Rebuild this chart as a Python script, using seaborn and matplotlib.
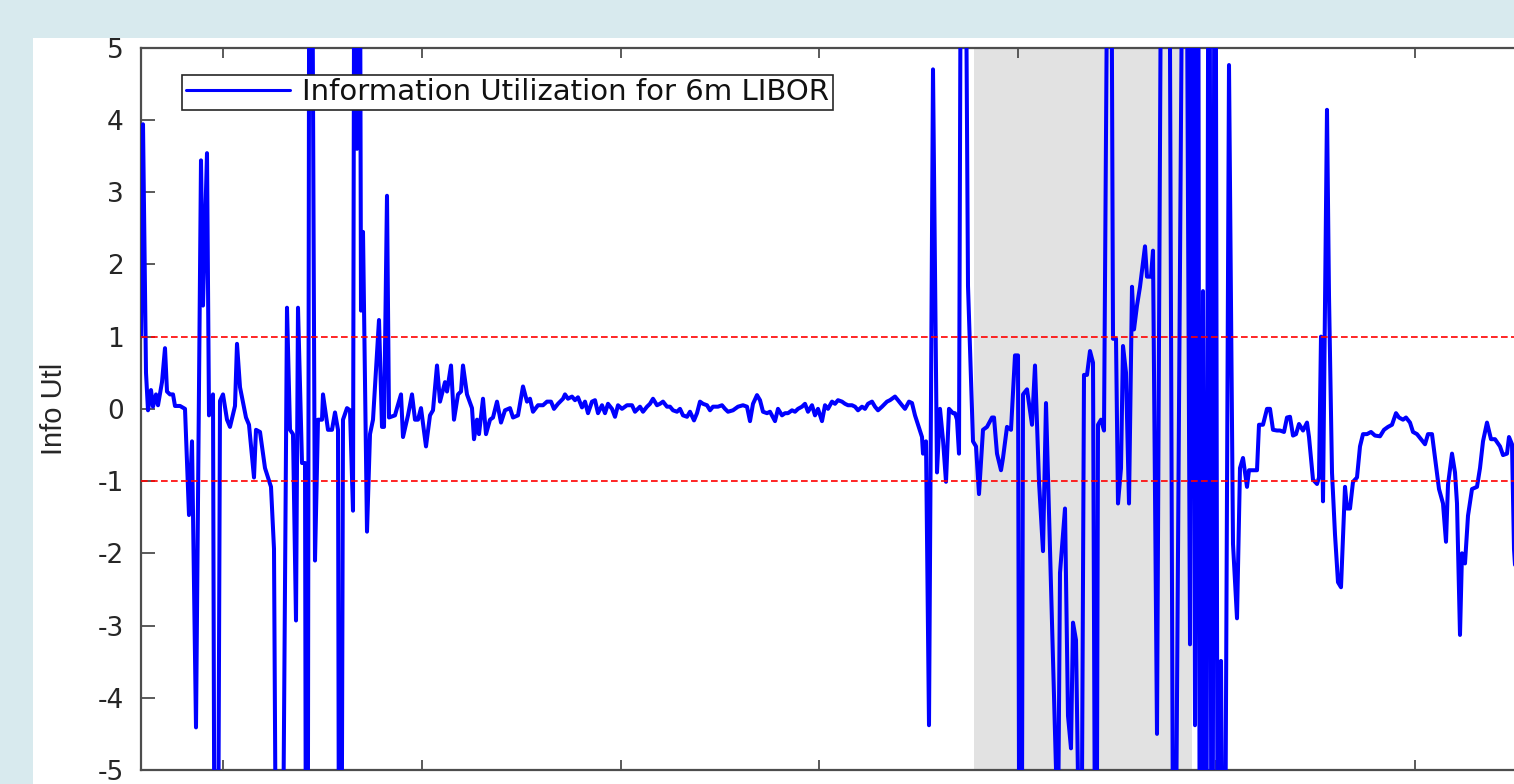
import numpy as np
import pandas as pd
import matplotlib
matplotlib.use("Agg")
import matplotlib.pyplot as plt
from matplotlib.patches import Rectangle
from matplotlib import font_manager
import seaborn as sns

# ---------------- data ----------------
obs = [
    0, 2, 5, 7, 10, 12, 15, 17, 21, 24,
    26, 29, 32, 34, 39, 44, 48, 51, 55, 60,
    62, 66, 68, 72, 75, 79, 82, 86, 89, 94,
    96, 99, 105, 108, 113, 115, 119, 124, 130, 133,
    138, 146, 149, 152, 155, 157, 161, 164, 166, 169,
    174, 177, 181, 182, 187, 191, 194, 197, 199, 202,
    206, 209, 212, 214, 216, 218, 220, 222, 226, 229,
    232, 238, 241, 243, 246, 248, 254, 256, 260, 262,
    267, 271, 274, 277, 280, 285, 289, 292, 296, 299,
    304, 306, 310, 313, 317, 320, 322, 326, 331, 333,
    336, 338, 342, 345, 349, 352, 356, 360, 364, 369,
    372, 377, 382, 386, 389, 392, 397, 402, 406, 410,
    413, 417, 422, 424, 427, 431, 434, 437, 441, 444,
    447, 451, 454, 457, 461, 464, 467, 471, 474, 477,
    481, 486, 491, 494, 499, 502, 506, 509, 512, 516,
    519, 522, 526, 529, 532, 536, 539, 542, 546, 549,
    553, 556, 559, 562, 566, 569, 572, 577, 581, 584,
    587, 592, 597, 602, 606, 609, 612, 616, 619, 622,
    626, 629, 634, 637, 641, 644, 647, 651, 654, 657,
    661, 664, 667, 671, 674, 677, 681, 684, 687, 691,
    694, 697, 701, 704, 707, 711, 714, 717, 721, 724,
    727, 731, 734, 737, 741, 746, 749, 754, 757, 761,
    764, 768, 771, 774, 777, 781, 782, 785, 788, 792,
    796, 799, 802, 805, 808, 812, 814, 816, 818, 821.5,
    827, 832, 835, 838, 842, 846, 851, 853, 856, 860,
    862, 866, 870, 874, 877, 879.5, 882, 886, 891, 894,
    898, 902, 905, 917, 919, 924, 927, 930, 932, 935,
    940, 943, 946, 949, 952, 955, 957, 960, 963, 969,
    972, 975, 977, 980, 982, 985, 988, 991, 993, 996,
    999, 1004, 1006, 1010, 1012, 1016, 1025, 1033, 1044, 1049,
    1051, 1054, 1057, 1059, 1062, 1065, 1068, 1071, 1074, 1077,
    1080, 1083, 1088, 1092, 1096, 1099, 1102, 1106, 1108, 1111,
    1116, 1118, 1122, 1126, 1129, 1132, 1136, 1139, 1143, 1146,
    1149, 1152, 1155, 1158, 1162, 1166, 1168, 1172, 1176, 1178,
    1180, 1182, 1186, 1188, 1191, 1194, 1197, 1200, 1204, 1206,
    1209, 1212, 1216, 1219, 1222, 1226, 1230, 1234, 1239, 1243,
    1247, 1251, 1255, 1258, 1262, 1265, 1269, 1272, 1276, 1280,
    1284, 1287, 1291, 1294, 1298, 1302, 1305, 1307, 1311, 1314,
    1316, 1319, 1321, 1324, 1327, 1331, 1336, 1339, 1342, 1346,
    1350, 1354, 1359, 1362, 1366, 1368, 1371, 1373, 1376,
]

info_util = [
    1.0, 3.94, 0.5, -0.02, 0.26, 0.03, 0.2, 0.05, 0.37, 0.84,
    0.24, 0.2, 0.2, 0.04, 0.04, 0.0, -1.47, -0.45, -4.41, 3.44,
    1.43, 3.54, -0.09, 0.2, -14, 0.11, 0.2, -0.15, -0.25, 0.04,
    0.9, 0.3, -0.12, -0.22, -0.95, -0.29, -0.32, -0.82, -1.08, -1.94,
    -14, 1.4, -0.29, -0.35, -2.93, 1.4, -0.75, -0.75, -14, 14,
    -2.1, -0.15, -0.15, 0.2, -0.29, -0.29, -0.05, -0.29, -14, -0.15,
    0.01, -0.02, -1.41, 12, 3.6, 12, 1.36, 2.45, -1.7, -0.35,
    -0.15, 1.23, -0.25, -0.25, 2.95, -0.12, -0.09, 0.01, 0.2, -0.39,
    -0.09, 0.2, -0.15, -0.15, 0.01, -0.52, -0.09, -0.02, 0.6, 0.1,
    0.37, 0.24, 0.6, -0.15, 0.2, 0.24, 0.6, 0.2, 0.01, -0.42,
    -0.15, -0.35, 0.14, -0.35, -0.15, -0.12, 0.1, -0.19, -0.02, 0.01,
    -0.12, -0.09, 0.31, 0.1, 0.14, -0.04, 0.05, 0.05, 0.1, 0.1,
    0.0, 0.07, 0.14, 0.2, 0.14, 0.17, 0.12, 0.16, 0.02, 0.1,
    -0.06, 0.1, 0.12, -0.06, 0.05, -0.06, 0.07, 0.0, -0.11, 0.05,
    0.0, 0.05, 0.05, -0.04, 0.03, -0.04, 0.03, 0.07, 0.14, 0.05,
    0.07, 0.1, 0.03, 0.03, -0.02, -0.04, 0.0, -0.09, -0.11, -0.04,
    -0.16, -0.06, 0.1, 0.07, 0.05, -0.02, 0.03, 0.03, 0.05, 0.0,
    -0.04, -0.02, 0.03, 0.05, 0.03, -0.17, 0.07, 0.19, 0.12, -0.04,
    -0.06, -0.04, -0.17, 0.0, -0.09, -0.06, -0.06, -0.02, -0.04, 0.0,
    0.03, 0.07, -0.04, 0.05, -0.09, 0.0, -0.17, 0.05, 0.0, 0.1,
    0.07, 0.12, 0.1, 0.07, 0.05, 0.05, 0.03, -0.02, 0.03, 0.0,
    0.07, 0.1, 0.03, -0.02, 0.03, 0.1, 0.12, 0.17, 0.12, 0.05,
    0.0, 0.1, 0.08, -0.09, -0.22, -0.39, -0.62, -0.45, -4.38, 4.7,
    -0.88, 0.0, -0.43, -1.01, 0.0, -0.06, -0.06, -0.15, -0.62, 14,
    1.7, -0.45, -0.52, -1.18, -0.29, -0.25, -0.12, -0.12, -0.62, -0.85,
    -0.68, -0.25, -0.29, 0.74, 0.74, -14, 0.2, 0.27, -0.22, 0.6,
    -1.01, -1.97, 0.08, -6, -2.27, -1.38, -4.25, -4.7, -2.96, -3.2,
    -8, 0.47, 0.47, 0.8, 0.64, -10, -0.22, -0.15, -0.3, 12,
    0.97, 0.97, -1.31, -0.82, 0.87, 0.5, -1.31, 1.69, 1.1, 1.43,
    1.69, 2.25, 1.83, 1.83, 2.19, -4.5, 20, -10, 12, -3.26,
    10, -4.38, 10, -10, 1.63, -10, 12, -12, 12, -10,
    -3.49, -10, 4.76, -1.87, -2.9, -0.82, -0.68, -1.08, -0.85, -0.85,
    -0.85, -0.22, -0.22, 0.0, 0.0, -0.29, -0.3, -0.3, -0.32, -0.12,
    -0.11, -0.37, -0.35, -0.21, -0.3, -0.19, -0.39, -0.98, -1.04, -0.95,
    1.0, -1.28, 4.14, 1.56, -0.88, -1.74, -2.4, -2.47, -1.08, -1.38,
    -1.38, -1.01, -0.95, -0.52, -0.35, -0.35, -0.32, -0.37, -0.38, -0.29,
    -0.25, -0.22, -0.06, -0.12, -0.15, -0.12, -0.19, -0.32, -0.35, -0.42,
    -0.49, -0.35, -0.35, -0.68, -1.11, -1.31, -1.84, -1.05, -0.62, -0.88,
    -1.31, -3.13, -2.0, -2.14, -1.48, -1.11, -1.08, -0.82, -0.45, -0.19,
    -0.42, -0.42, -0.52, -0.64, -0.62, -0.39, -0.49, -1.94, -2.6,
]

thresholds = [1, -1]
shade_span = (833, 1051)
x_ticks = [82.3, 280.9, 479.5, 678.1, 876.7, 1075.3, 1273.9]
y_ticks = list(range(-5, 6))
legend_label = "Information Utilization for 6m LIBOR"
y_label = "Info Utl"

# ---------------- style ----------------
sns.set_theme(style="white")
plt.rcParams["font.family"] = ["DejaVu Sans"]
plt.rcParams["axes.unicode_minus"] = False

W, H = 1514, 784
fig = plt.figure(figsize=(W / 100, H / 100), dpi=100, facecolor="#d8eaee")
fig.add_artist(Rectangle((33 / W, 0), 1 - 33 / W, 1 - 38 / H,
                         transform=fig.transFigure, facecolor="white",
                         edgecolor="none", zorder=0))

ax_l, ax_r, ax_t, ax_b = 141, 1541, 47.7, 770
ax = fig.add_axes([ax_l / W, (H - ax_b) / H, (ax_r - ax_l) / W, (ax_b - ax_t) / H])
ax.set_facecolor("white")

ax.axvspan(*shade_span, color="#e2e2e2", lw=0, zorder=0.5)

df = pd.DataFrame({"obs": obs, "info": info_util})
sns.lineplot(data=df, x="obs", y="info", ax=ax, color="#0000ff", lw=2.9,
             estimator=None, sort=False, label=legend_label, zorder=3)

for t in thresholds:
    ax.axhline(t, color="#ff0000", lw=1.2, ls=(0, (4, 2)), zorder=4)

ax.set_xlim(0, ax_r - ax_l)
ax.set_ylim(-5, 5)
ax.set_xticks(x_ticks)
ax.set_yticks(y_ticks)
ax.set_xlabel("")

spine_c = "#4d4d4d"
for side in ["left", "bottom", "top"]:
    ax.spines[side].set_visible(True)
    ax.spines[side].set_color(spine_c)
    ax.spines[side].set_linewidth(1.6)
ax.spines["right"].set_visible(False)

ax.tick_params(axis="x", direction="in", length=7.5, width=1.3, color=spine_c,
               top=True, bottom=True, labelbottom=False, labeltop=False)
ax.tick_params(axis="y", direction="in", length=10, width=1.3, color=spine_c,
               left=True, right=False, labelsize=19, labelcolor="#262626", pad=12.5)

names = {f.name for f in font_manager.fontManager.ttflist}
if "Liberation Sans Narrow" in names:
    ylab_family, ylab_size = "Liberation Sans Narrow", 24
else:
    ylab_family, ylab_size = "Liberation Sans", 21
ax.set_ylabel(y_label, fontsize=ylab_size, family=[ylab_family, "DejaVu Sans"],
              color="#262626")
ax.yaxis.set_label_coords((68 - ax_l) / (ax_r - ax_l), 0.5)

fs_px = 21 * 100 / 72
leg = ax.legend(loc="upper left",
                bbox_to_anchor=((182 - ax_l) / (ax_r - ax_l), (ax_b - 75) / (ax_b - ax_t)),
                borderaxespad=0, frameon=True, fancybox=False, framealpha=1,
                edgecolor="#262626", facecolor="white", fontsize=21,
                handlelength=104 / fs_px, handletextpad=13 / fs_px, borderpad=0.12)
leg.get_frame().set_linewidth(1.2)
for line in leg.get_lines():
    line.set_linewidth(2.2)
for txt in leg.get_texts():
    txt.set_color("#111111")

fig.savefig("out.png", dpi=100, facecolor=fig.get_facecolor())
